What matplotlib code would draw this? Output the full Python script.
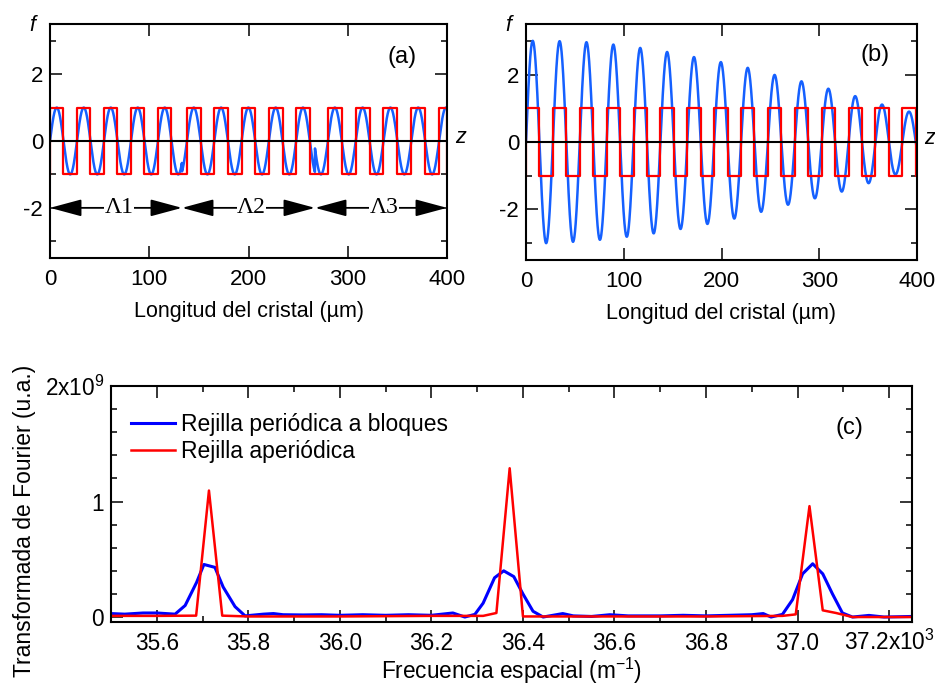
import matplotlib
matplotlib.use('Agg')
import matplotlib.pyplot as plt
import numpy as np
from matplotlib.ticker import MultipleLocator

plt.rcParams['font.family'] = ['Liberation Sans', 'DejaVu Sans']
plt.rcParams['font.size'] = 15.5
plt.rcParams['axes.unicode_minus'] = False

# ---- panel (a): block periodic grating (three blocks Λ1, Λ2, Λ3) ----
a_up = [0, 27.2, 54.4, 81.6, 108.8, 138, 165.5, 193, 220.5, 248, 280, 308, 336, 364, 392]
a_down = [13.6, 40.8, 68, 95.2, 122.4, 151.8, 179.3, 206.8, 234.3, 261.8, 294, 322, 350, 378, 400]
a_block_edges = [0, 133, 267, 400]
a_block_start = [0, 138, 280]
a_block_period = [27.2, 27.5, 28.0]
a_block_names = ['\u039b1', '\u039b2', '\u039b3']

# ---- panel (b): aperiodic grating, field with decaying amplitude ----
b_up = [0, 27.5, 55, 82.5, 110, 137.5, 165, 192.5, 220, 247.5, 275, 302.5, 330, 357.5, 385]
b_down = [13.75, 41.25, 68.75, 96.25, 123.75, 151.25, 178.75, 206.25, 233.75, 261.25,
          288.75, 316.25, 343.75, 371.25, 398.75]
b_period = 27.5
b_peaks = [3.0, 2.99, 2.96, 2.89, 2.79, 2.67, 2.52, 2.37, 2.20, 1.99, 1.80, 1.58, 1.36, 1.11, 0.90]
b_troughs = [-3.0, -2.96, -2.90, -2.81, -2.71, -2.58, -2.43, -2.27, -2.07, -1.86, -1.67, -1.47, -1.22, -0.96]

# ---- panel (c): Fourier transforms (x in units of 1e3 m^-1, y in 1e9) ----
blue_f = [35.50, 35.53, 35.57, 35.60, 35.64, 35.662, 35.687, 35.703, 35.727, 35.745, 35.771, 35.793,
          35.833, 35.855, 35.876, 35.92, 35.96, 36.00, 36.05, 36.10, 36.15, 36.20, 36.247, 36.273,
          36.295, 36.313, 36.338, 36.358, 36.380, 36.400, 36.422, 36.444, 36.487, 36.51, 36.55,
          36.59, 36.63, 36.70, 36.75, 36.80, 36.85, 36.90, 36.925, 36.942, 36.967, 36.989, 37.011,
          37.033, 37.055, 37.076, 37.098, 37.120, 37.156, 37.189, 37.25]
blue_v = [0.03, 0.025, 0.035, 0.035, 0.025, 0.10, 0.30, 0.455, 0.43, 0.26, 0.09, 0.01,
          0.025, 0.03, 0.02, 0.018, 0.02, 0.015, 0.02, 0.015, 0.02, 0.015, 0.035, 0.0,
          0.023, 0.12, 0.34, 0.40, 0.35, 0.20, 0.05, 0.0, 0.03, 0.01, 0.005,
          0.02, 0.01, 0.01, 0.015, 0.01, 0.015, 0.02, 0.03, 0.0, 0.023, 0.15, 0.374,
          0.461, 0.374, 0.202, 0.035, 0.0, 0.014, 0.0, 0.005]
red_f = [35.50, 35.60, 35.686, 35.714, 35.743, 35.80, 36.00, 36.20, 36.313, 36.342, 36.371, 36.400,
         36.45, 36.60, 36.80, 36.967, 36.996, 37.026, 37.055, 37.084, 37.120, 37.25]
red_v = [0.01, 0.01, 0.012, 1.095, 0.012, 0.005, 0.005, 0.01, 0.01, 0.035, 1.288, 0.005,
         0.005, 0.005, 0.005, 0.01, 0.023, 0.96, 0.058, 0.035, 0.0, 0.0]

W, H = 935, 687
fig = plt.figure(figsize=(W / 100, H / 100), dpi=100)


def rect(l, t, r, b):
    return [l / W, 1 - b / H, (r - l) / W, (b - t) / H]


def square(ups, downs, end):
    xs, ys = [0], [-1]
    for u, d in zip(ups, downs):
        xs += [u, u, d, d]
        ys += [-1, 1, 1, -1]
    xs.append(end)
    ys.append(-1)
    return xs, ys


def style(ax, fs):
    for s in ax.spines.values():
        s.set_linewidth(1.5)
    ax.tick_params(which='both', direction='in', top=True, right=True, width=1.1, labelsize=fs)
    ax.tick_params(which='major', length=8.5, pad=5)
    ax.tick_params(which='minor', length=4.5)


blue_ab = '#1560ff'

# panel (a)
axa = fig.add_axes(rect(50, 24, 447, 258))
z = np.linspace(0, 400, 4001)
fa = np.zeros_like(z)
for k in range(3):
    m = (z >= a_block_edges[k]) & (z <= a_block_edges[k + 1])
    fa[m] = np.sin(2 * np.pi * (z[m] - a_block_start[k]) / a_block_period[k])
xs, ys = square(a_up, a_down, 400)
axa.plot(z, fa, color=blue_ab, lw=1.8)
axa.plot(xs, ys, color='red', lw=1.6)
axa.axhline(0, color='black', lw=1.5, zorder=5)
for k in range(3):
    axa.annotate('', xy=(a_block_edges[k + 1], -2), xytext=(a_block_edges[k], -2),
                 arrowprops=dict(arrowstyle='<|-|>,head_length=1.3,head_width=0.35',
                                 color='black', lw=1.3, mutation_scale=15,
                                 shrinkA=0, shrinkB=0))
    xm = (a_block_edges[k] + a_block_edges[k + 1]) / 2 + 3
    axa.text(xm, -2, a_block_names[k], family=['Liberation Serif', 'DejaVu Serif'],
             fontsize=17, ha='center', va='center',
             bbox=dict(facecolor='white', edgecolor='none', pad=0.3))
axa.text(0.886, 0.858, '(a)', transform=axa.transAxes, ha='center', va='center', fontsize=17)

# panel (b)
axb = fig.add_axes(rect(526, 24, 917, 260))
b_pos = []
b_amp = []
for k in range(len(b_peaks)):
    b_pos.append((b_up[k] + b_down[k]) / 2)
    b_amp.append(b_peaks[k])
    if k < len(b_troughs):
        b_pos.append((b_down[k] + b_up[k + 1]) / 2)
        b_amp.append(-b_troughs[k])
fb = np.interp(z, b_pos, b_amp) * np.sin(2 * np.pi * z / b_period)
xs, ys = square(b_up, b_down, 400)
axb.plot(z, fb, color=blue_ab, lw=1.8)
axb.plot(xs, ys, color='red', lw=1.6)
axb.axhline(0, color='black', lw=1.5, zorder=5)
axb.text(0.893, 0.869, '(b)', transform=axb.transAxes, ha='center', va='center', fontsize=17)

for ax in (axa, axb):
    ax.set_xlim(0, 400)
    ax.set_ylim(-3.5, 3.5)
    ax.xaxis.set_major_locator(MultipleLocator(100))
    ax.set_yticks([-2, 0, 2])
    ax.set_yticks([-3, -1, 1, 3], minor=True)
    style(ax, 16)
    ax.tick_params(axis='x', which='major', pad=8)
    ax.set_xlabel('Longitud del cristal (\u00b5m)', labelpad=8)
    ax.text(-0.045, 0.995, 'f', transform=ax.transAxes, ha='center', va='center', style='italic')
    ax.text(1.033, 0.515, 'z', transform=ax.transAxes, ha='center', va='center', style='italic')

# panel (c)
axc = fig.add_axes(rect(111, 386, 912, 622))
axc.plot(blue_f, blue_v, color='#0000ff', lw=2.2, label='Rejilla peri\u00f3dica a bloques')
axc.plot(red_f, red_v, color='#ff0000', lw=1.8, label='Rejilla aperi\u00f3dica')
axc.set_xlim(35.5, 37.25)
axc.set_ylim(-0.043, 2.0)
axc.set_yticks([0, 1, 2])
axc.set_yticklabels(['0', '1', '2x10$^{\\mathregular{9}}$'])
axc.yaxis.set_minor_locator(MultipleLocator(0.2))
xt = [35.6, 35.8, 36.0, 36.2, 36.4, 36.6, 36.8, 37.0, 37.2]
axc.set_xticks(xt)
axc.set_xticklabels(['%.1f' % v for v in xt[:-1]] + ['37.2x10$^{\\mathregular{3}}$'])
axc.xaxis.set_minor_locator(MultipleLocator(0.1))
style(axc, 16.3)
axc.tick_params(axis='x', which='major', pad=20)
for lbl in axc.get_xticklabels():
    lbl.set_verticalalignment('baseline')
axc.set_xlabel('Frecuencia espacial (m$^{\\mathregular{-1}}$)', fontsize=16.3, labelpad=1)
axc.set_ylabel('Transformada de Fourier (u.a.)', fontsize=16.5)
axc.yaxis.set_label_coords(-0.094, 0.43)
axc.legend(loc='upper left', bbox_to_anchor=(0.025, 0.885), frameon=False, borderpad=0,
           borderaxespad=0, handlelength=1.9, handletextpad=0.3, labelspacing=0.15,
           fontsize=16.5)
axc.text(0.922, 0.824, '(c)', transform=axc.transAxes, ha='center', va='center', fontsize=17)

fig.savefig('out.png', dpi=100)
